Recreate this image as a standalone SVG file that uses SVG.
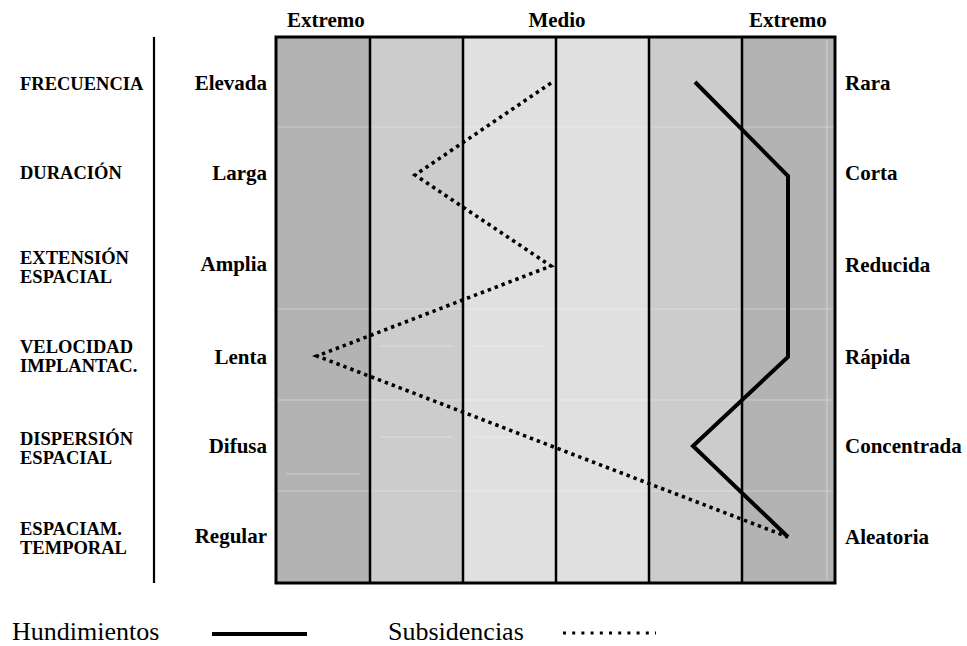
<svg xmlns="http://www.w3.org/2000/svg" width="967" height="646" viewBox="0 0 967 646">
<style>
text{font-family:"Liberation Serif","Times New Roman",serif;fill:#000}
.hd{font-size:21px;font-weight:bold;text-anchor:middle}
.lb{font-size:18.5px;font-weight:bold}
.mid{font-size:21px;font-weight:bold;text-anchor:end}
.rt{font-size:21px;font-weight:bold}
.lg{font-size:26px}
.div{stroke:#000;stroke-width:2.5}
.faint{stroke:#fff;stroke-opacity:0.35;stroke-width:1.2}
.solid{fill:none;stroke:#000;stroke-width:4;stroke-linejoin:miter}
.dot{fill:none;stroke:#000;stroke-width:3.6;stroke-dasharray:3.4 4}
</style>
<rect width="967" height="646" fill="#fff"/>
<g id="headers">
<text class="hd" x="326" y="27">Extremo</text>
<text class="hd" x="557" y="27">Medio</text>
<text class="hd" x="788" y="27">Extremo</text>
</g>
<line x1="154" y1="37" x2="154" y2="583" stroke="#000" stroke-width="2.2"/>
<g id="chart">
<rect x="276" y="37" width="94" height="546" fill="#b3b3b3"/>
<rect x="370" y="37" width="93" height="546" fill="#cccccc"/>
<rect x="463" y="37" width="93" height="546" fill="#e0e0e0"/>
<rect x="556" y="37" width="93" height="546" fill="#e0e0e0"/>
<rect x="649" y="37" width="93" height="546" fill="#cccccc"/>
<rect x="742" y="37" width="93" height="546" fill="#b3b3b3"/>
<g class="faint">
<line x1="276" y1="127" x2="835" y2="127"/>
<line x1="276" y1="309" x2="835" y2="309"/>
<line x1="276" y1="400" x2="835" y2="400"/>
<line x1="276" y1="491" x2="835" y2="491"/>
<line x1="286" y1="474" x2="360" y2="474"/>
<line x1="380" y1="437" x2="453" y2="437"/>
<line x1="473" y1="437" x2="546" y2="437"/>
<line x1="380" y1="346" x2="453" y2="346"/>
<line x1="473" y1="346" x2="546" y2="346"/>
<line x1="827" y1="40" x2="827" y2="580"/>
</g>
<line class="div" x1="370" y1="37" x2="370" y2="583"/>
<line class="div" x1="463" y1="37" x2="463" y2="583"/>
<line class="div" x1="556" y1="37" x2="556" y2="583"/>
<line class="div" x1="649" y1="37" x2="649" y2="583"/>
<line class="div" x1="742" y1="37" x2="742" y2="583"/>
<rect x="276" y="37" width="559" height="546" fill="none" stroke="#000" stroke-width="3"/>
</g>
<g id="row-frecuencia">
<text class="lb" x="20" y="90">FRECUENCIA</text>
<text class="mid" x="267" y="90">Elevada</text>
<text class="rt" x="845" y="90">Rara</text>
</g>
<g id="row-duracion">
<text class="lb" x="20" y="179">DURACIÓN</text>
<text class="mid" x="267" y="180">Larga</text>
<text class="rt" x="845" y="180">Corta</text>
</g>
<g id="row-extension">
<text class="lb" x="20" y="264">EXTENSIÓN</text>
<text class="lb" x="20" y="283">ESPACIAL</text>
<text class="mid" x="267" y="271">Amplia</text>
<text class="rt" x="845" y="272">Reducida</text>
</g>
<g id="row-velocidad">
<text class="lb" x="20" y="353">VELOCIDAD</text>
<text class="lb" x="20" y="372">IMPLANTAC.</text>
<text class="mid" x="267" y="364">Lenta</text>
<text class="rt" x="845" y="364">Rápida</text>
</g>
<g id="row-dispersion">
<text class="lb" x="20" y="445">DISPERSIÓN</text>
<text class="lb" x="20" y="464">ESPACIAL</text>
<text class="mid" x="267" y="453">Difusa</text>
<text class="rt" x="845" y="453">Concentrada</text>
</g>
<g id="row-espaciam">
<text class="lb" x="20" y="535">ESPACIAM.</text>
<text class="lb" x="20" y="554">TEMPORAL</text>
<text class="mid" x="267" y="543">Regular</text>
<text class="rt" x="845" y="544">Aleatoria</text>
</g>
<g id="connectors">
<polyline class="dot" points="551,83 415,175 551,266 317,356 788,537"/>
<polyline class="solid" points="695,82 788,176 788,357 693,446 788,537"/>
</g>
<g id="legend">
<text class="lg" x="12" y="640">Hundimientos</text>
<line x1="212" y1="634" x2="307" y2="634" stroke="#000" stroke-width="4"/>
<text class="lg" x="388" y="640">Subsidencias</text>
<line x1="563" y1="633" x2="656" y2="633" stroke="#000" stroke-width="3" stroke-dasharray="3 6.2"/>
</g>
</svg>
